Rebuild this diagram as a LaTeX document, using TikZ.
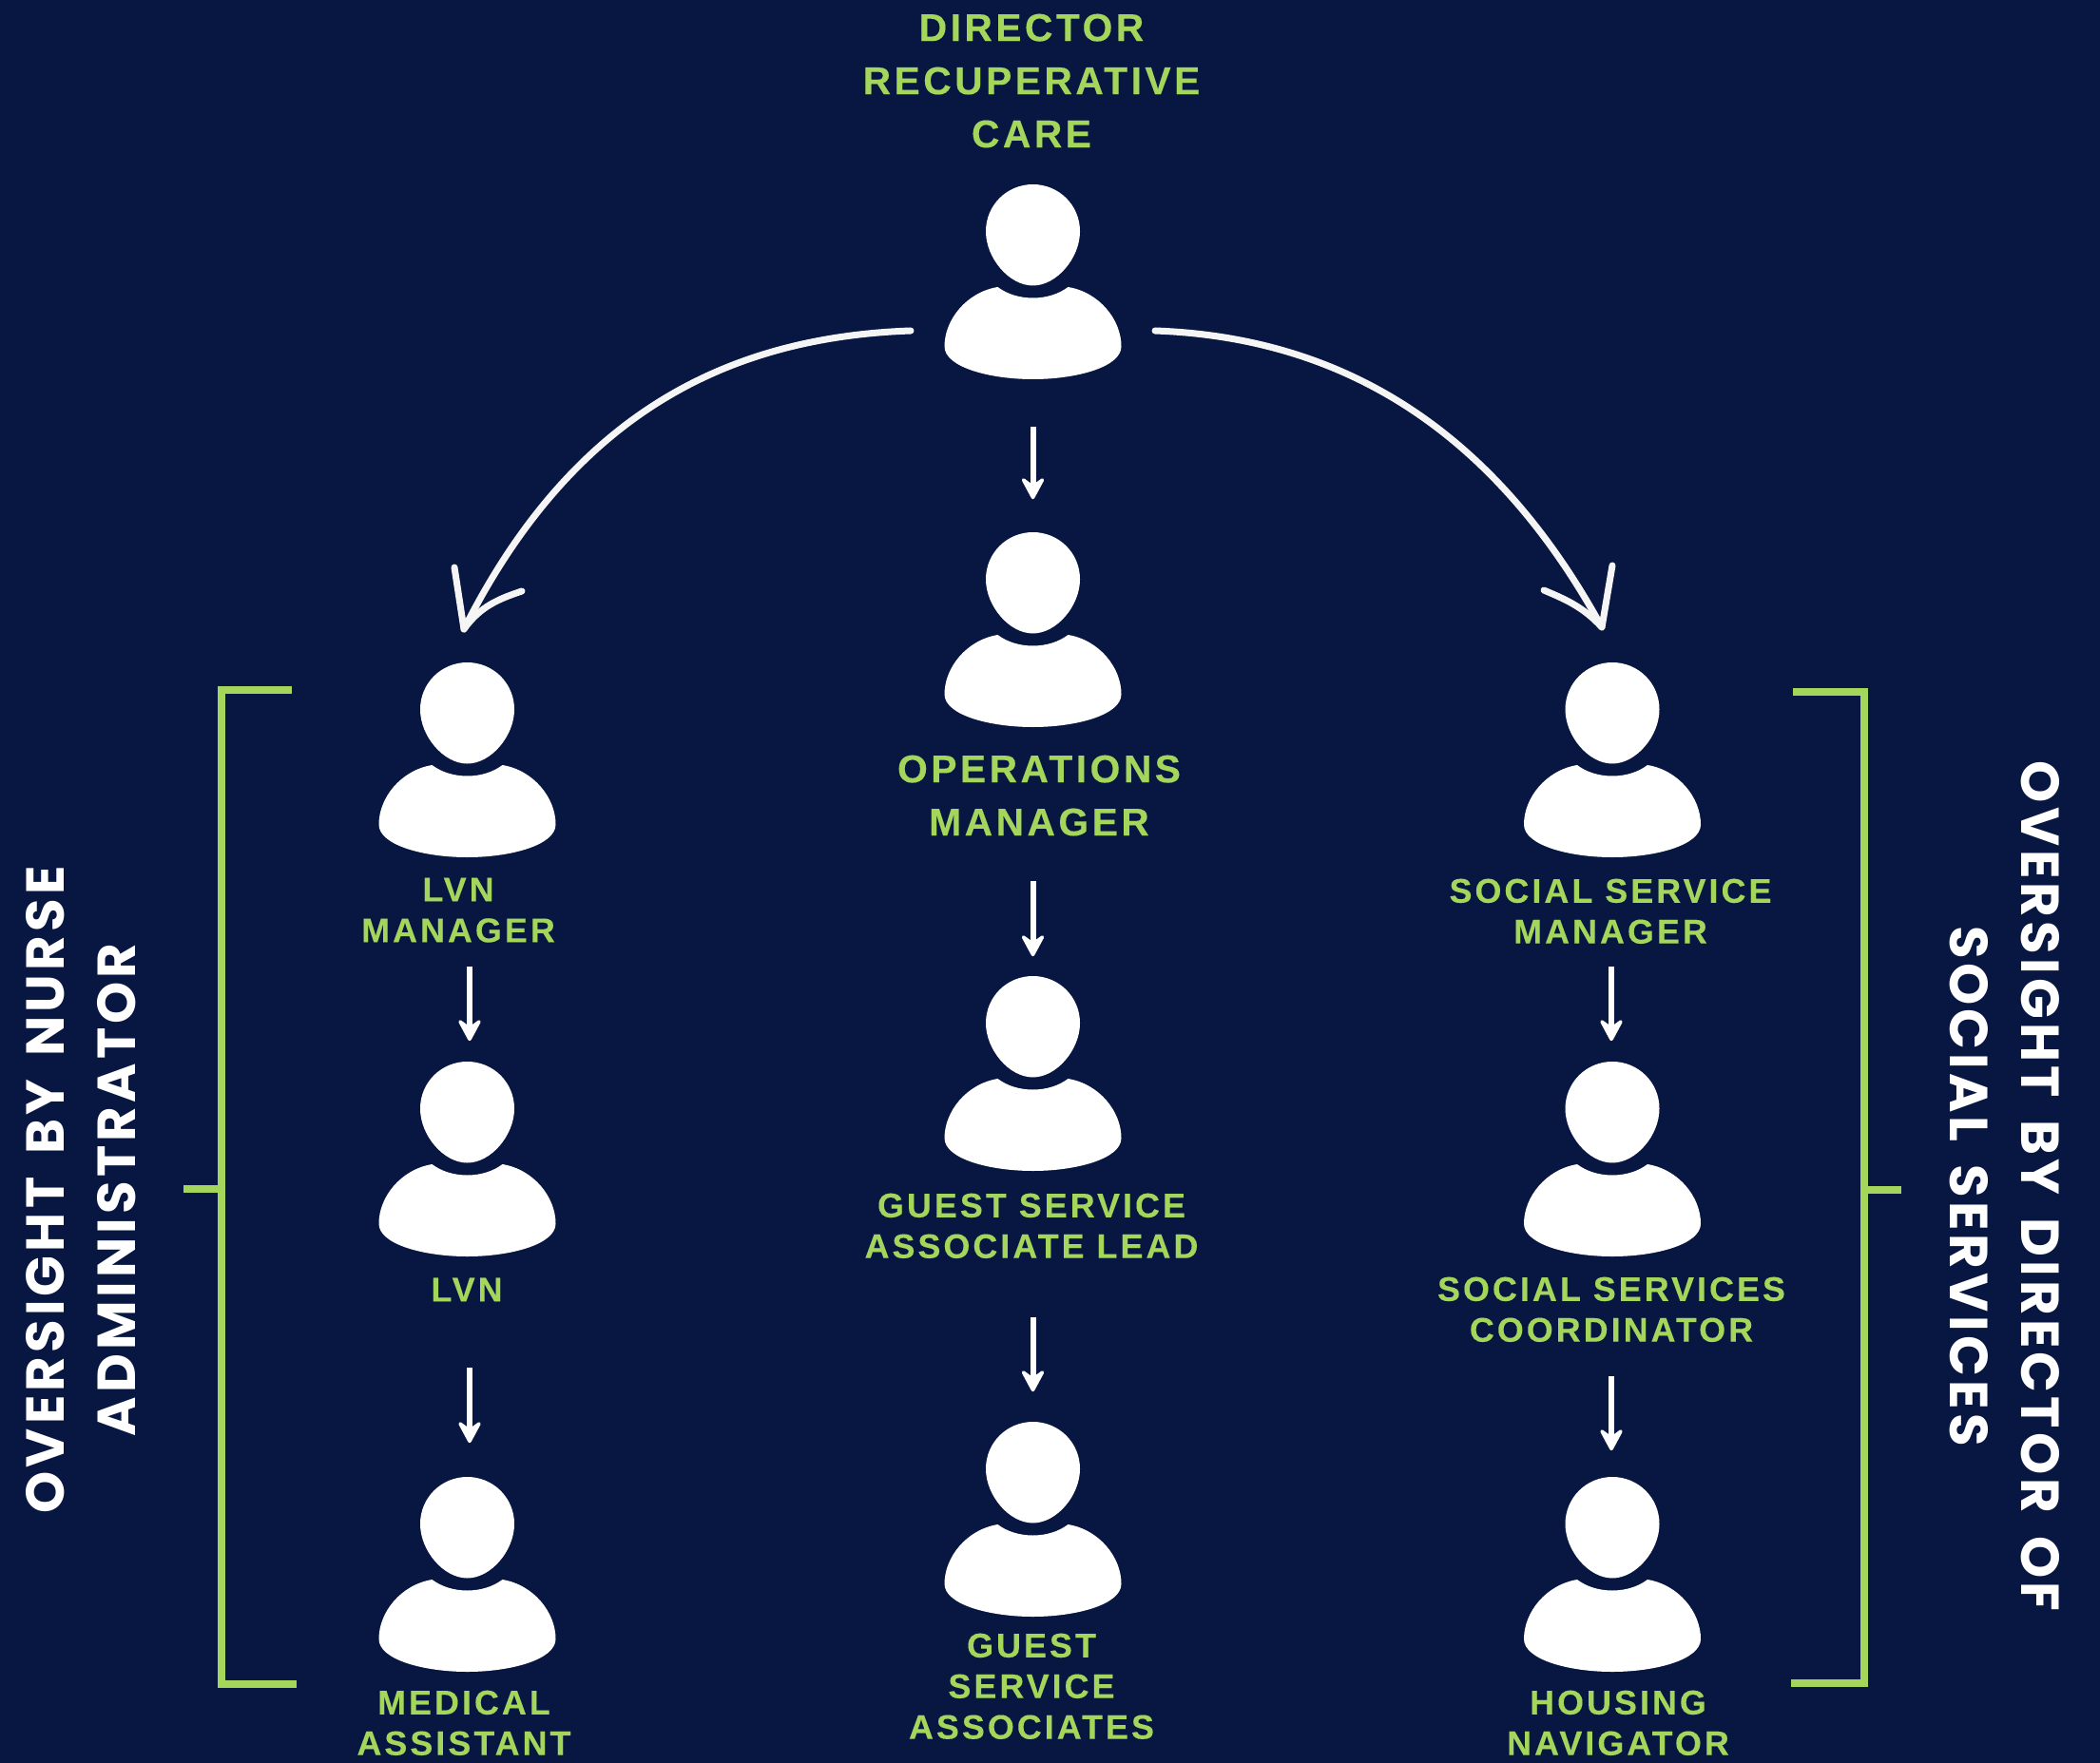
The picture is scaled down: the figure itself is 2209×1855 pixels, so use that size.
\documentclass[tikz,border=0pt]{standalone}
\usepackage{fontspec}
\usepackage{tikz}
\usetikzlibrary{arrows.meta}
\setmainfont{Liberation Sans}
\newfontfamily\sidefont[LetterSpace=7.3,WordSpace=1.5]{Poppins}
\newfontfamily\labelfont[LetterSpace=8.5,BoldFeatures={FakeBold=0.2}]{Liberation Sans}
\definecolor{navy}{RGB}{8,23,66}
\definecolor{leaf}{RGB}{165,214,92}
\definecolor{chalk}{RGB}{245,245,245}
\tikzset{person/.style={minimum width=1.9cm,minimum height=2.08cm,inner sep=0pt,path picture={
\fill[white] (0,-102.5) .. controls (-27,-102.5) and (-49.5,-81) .. (-49.5,-53) .. controls (-49.5,-25) and (-25,4) .. (0,4) .. controls (25,4) and (49.5,-25) .. (49.5,-53) .. controls (49.5,-81) and (27,-102.5) .. (0,-102.5) -- cycle;
\fill[white] (-37,5.5) .. controls (-27,13) and (-14,17) .. (0,17) .. controls (14,17) and (27,13) .. (37,5.5) .. controls (70,11) and (93,40) .. (93,68) .. controls (93,90) and (45,102.5) .. (0,102.5) .. controls (-45,102.5) and (-93,90) .. (-93,68) .. controls (-93,40) and (-70,11) .. (-37,5.5) -- cycle;
}}}
\tikzset{lbl/.style={anchor=north,inner sep=0pt,align=center,text=leaf,font=\labelfont\bfseries\fontsize{10.2}{12.2}\selectfont}}
\tikzset{biglbl/.style={anchor=north,inner sep=0pt,align=center,text=leaf,font=\labelfont\bfseries\fontsize{11.6}{15.9}\selectfont}}
\tikzset{sidelbl/.style={inner sep=0pt,align=center,text=white,font=\sidefont\bfseries\fontsize{16}{21.3}\selectfont}}
\tikzset{stem/.style={white,line width=0.06cm,-{Stealth[length=0.28cm,width=0.3cm,inset=0.11cm,round,line width=1pt]}}}
\tikzset{sweep/.style={chalk,line width=0.07cm,line cap=round,line join=round}}
\tikzset{bracket/.style={leaf,line width=0.08cm}}

\begin{document}
\begin{tikzpicture}[x=0.01cm,y=-0.01cm]
\path[use as bounding box,fill=navy] (0,0) rectangle (2209,1855);
\foreach \nm/\x/\y in {dir/1086.5/296.5,ops/1086.5/662.5,gsal/1086.5/1129.5,gsa/1086.5/1598.5,lvnmgr/491.5/799.5,lvn/491.5/1219.5,ma/491.5/1656.5,ssm/1696/799.5,ssc/1696/1219.5,hn/1696/1656.5} {
\node[person] (\nm) at (\x,\y) {};
}
\node[biglbl] (dirlbl) at (1085,14) {DIRECTOR\\RECUPERATIVE\\CARE};
\node[biglbl] (opslbl) at (1093,794) {OPERATIONS\\MANAGER};
\node[lbl] (gsallbl) at (1085,1255) {GUEST SERVICE\\ASSOCIATE LEAD};
\node[lbl] (gsalbl) at (1085,1718) {GUEST\\SERVICE\\ASSOCIATES};
\node[lbl] (lvnmgrlbl) at (482,923) {LVN\\MANAGER};
\node[lbl] (lvnlbl) at (491,1344) {LVN};
\node[lbl] (malbl) at (488,1778) {MEDICAL\\ASSISTANT};
\node[lbl] (ssmlbl) at (1694,924) {SOCIAL SERVICE\\MANAGER};
\node[lbl] (ssclbl) at (1695,1343) {SOCIAL SERVICES\\COORDINATOR};
\node[lbl] (hnlbl) at (1702,1778) {HOUSING\\NAVIGATOR};
\node[sidelbl,rotate=90] (nurselbl) at (85.5,1252) {OVERSIGHT BY NURSE\\ADMINISTRATOR};
\node[sidelbl,rotate=-90] (sociallbl) at (2109,1248) {OVERSIGHT BY DIRECTOR OF\\SOCIAL SERVICES};
% straight arrows
\foreach \a/\b/\s/\e/\d in {dir/ops/0.475/0.325/0,ops/gsal/1.595/0.185/0,gsal/gsa/1.515/0.295/0,lvnmgr/lvn/1.125/0.195/0.025,lvn/ma/1.145/0.335/0.025,ssm/ssc/1.125/0.195/-0.01,ssc/hn/1.235/0.255/-0.01} {
\draw[stem,shorten <=\s cm,shorten >=\e cm] ([xshift=\d cm]\a.south) -- ([xshift=\d cm]\b.north);
}
% curved arrows
\coordinate (dirleft) at (958,348);
\coordinate (dirright) at (1215,348);
\coordinate (lvntip) at (488,662);
\coordinate (sstip) at (1685,660);
\draw[sweep] (dirleft) .. controls (760,355) and (600,440) .. (lvntip);
\draw[sweep] (478,597) -- (lvntip) .. controls (505,638) and (525,630) .. (549,622);
\draw[sweep] (dirright) .. controls (1410,355) and (1570,450) .. (sstip);
\draw[sweep] (1696,595) -- (sstip) .. controls (1665,638) and (1645,630) .. (1624,621);
% brackets
\draw[bracket] (307,725.5) -- (233,725.5) -- (233,1772) -- (312,1772);
\draw[bracket] (193,1251) -- (233,1251);
\draw[bracket] (1886,728) -- (1960.5,728) -- (1960.5,1771) -- (1884,1771);
\draw[bracket] (1960.5,1252) -- (2000,1252);
\end{tikzpicture}
\end{document}
